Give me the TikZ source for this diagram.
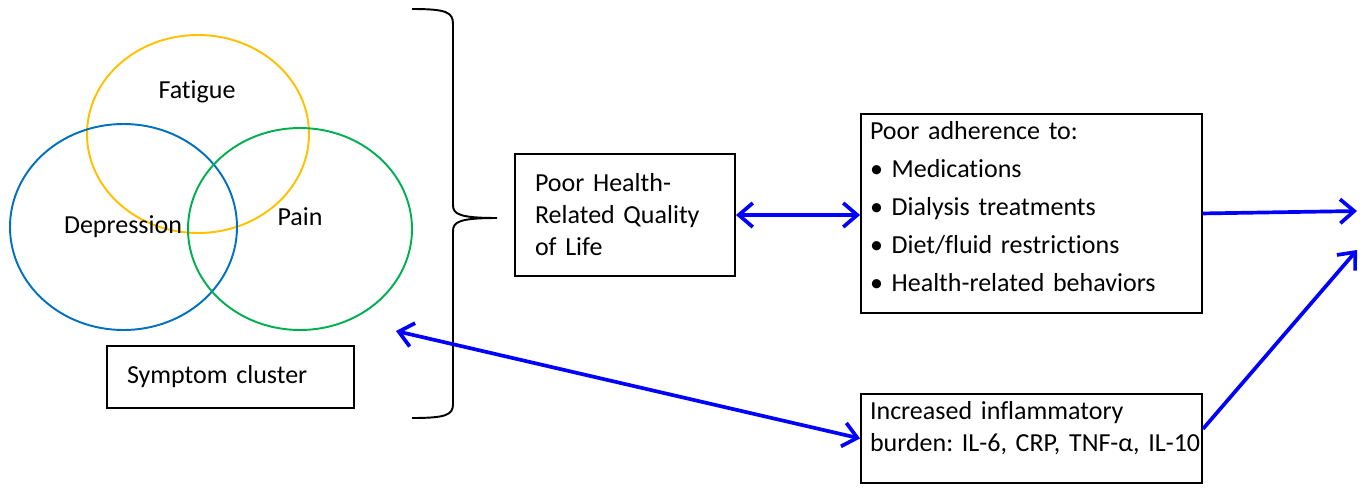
\documentclass[tikz,border=0pt]{standalone}
\usepackage{fontspec}
\setmainfont{Carlito}[Ligatures=NoCommon,WordSpace=0.75]
\usetikzlibrary{arrows.meta,positioning}
\definecolor{fatigueyellow}{RGB}{255,192,0}
\definecolor{depressblue}{RGB}{0,112,192}
\definecolor{paingreen}{RGB}{0,176,80}
\definecolor{linkblue}{RGB}{0,0,255}
\frenchspacing
\tikzset{textbox/.style={draw,rectangle,line width=1.1pt,align=left,inner ysep=0pt,
      font=\fontsize{14.8}{18.2}\selectfont},
    vennring/.style={line width=1.1pt},
    vennlabel/.style={inner sep=0,font=\fontsize{14.8}{18.2}\selectfont},
    linkarrow/.style={draw=linkblue,line width=2.1pt,>={Straight Barb[length=2.8mm,width=4.8mm]}},
    accolade/.style={line width=1.1pt}}

\begin{document}
\begin{tikzpicture}[x=0.02cm,y=-0.02cm]

\useasboundingbox (0,0) rectangle (1365,487);

% symptom cluster

\draw [vennring,fatigueyellow] (198,134) ellipse [x radius=111, y radius=99];
\draw [vennring,depressblue] (123.5,227) ellipse [x radius=113.5, y radius=103];
\draw [vennring,paingreen] (300,229) ellipse [x radius=112, y radius=101];

\node (fatigue) at (197,92) [vennlabel] {Fatigue};
\node (depression) at (123,227) [vennlabel] {Depression};
\node (pain) at (300,217) [vennlabel] {Pain};

\node (cluster) at (230.5,377) [textbox,text width=4.14cm,inner xsep=0.4cm,minimum height=1.24cm] {Symptom cluster};

\draw [accolade] (412,9) .. controls (446,9) and (453,12) .. (453,24)
    -- (453,205) .. controls (453,214) and (459,218) .. (497,218)
    .. controls (459,218) and (453,222) .. (453,231)
    -- (453,404) .. controls (453,415) and (446,418) .. (412,418);

% outcomes

\node (hrqol) at (625,215) [textbox,text width=3.6cm,inner xsep=0.4cm,minimum height=2.44cm] {Poor Health-\\Related Quality\\of Life};

\node (adherence) at (1031.5,113) [textbox,anchor=north,text width=6.46cm,inner xsep=0.18cm,inner ysep=0.12cm,
    text height=0.4cm,text depth=3.34cm,font=\fontsize{14.8}{21.5}\selectfont] {Poor adherence to:\\
    • Medications\\
    • Dialysis treatments\\
    • Diet/fluid restrictions\\
    • Health-related behaviors};

\node (inflam) at (1031.5,393) [textbox,anchor=north,text width=6.46cm,inner xsep=0.18cm,inner ysep=0.12cm,
    text height=0.4cm,text depth=1.14cm] {Increased inflammatory\\\mbox{burden: IL-6, CRP, TNF-α, IL-10}};

\coordinate (venntip) at (396,331);
\coordinate (outtop) at (1357,211);
\coordinate (outbottom) at (1357,250);

\draw [linkarrow,<->] (hrqol.east) -- (hrqol.east -| adherence.west);
\draw [linkarrow,<->] (venntip) -- (inflam.west);
\draw [linkarrow,->] (adherence.east) -- (outtop);
\draw [linkarrow,->] ([yshift=0.19cm]inflam.east) -- (outbottom);

\end{tikzpicture}
\end{document}
